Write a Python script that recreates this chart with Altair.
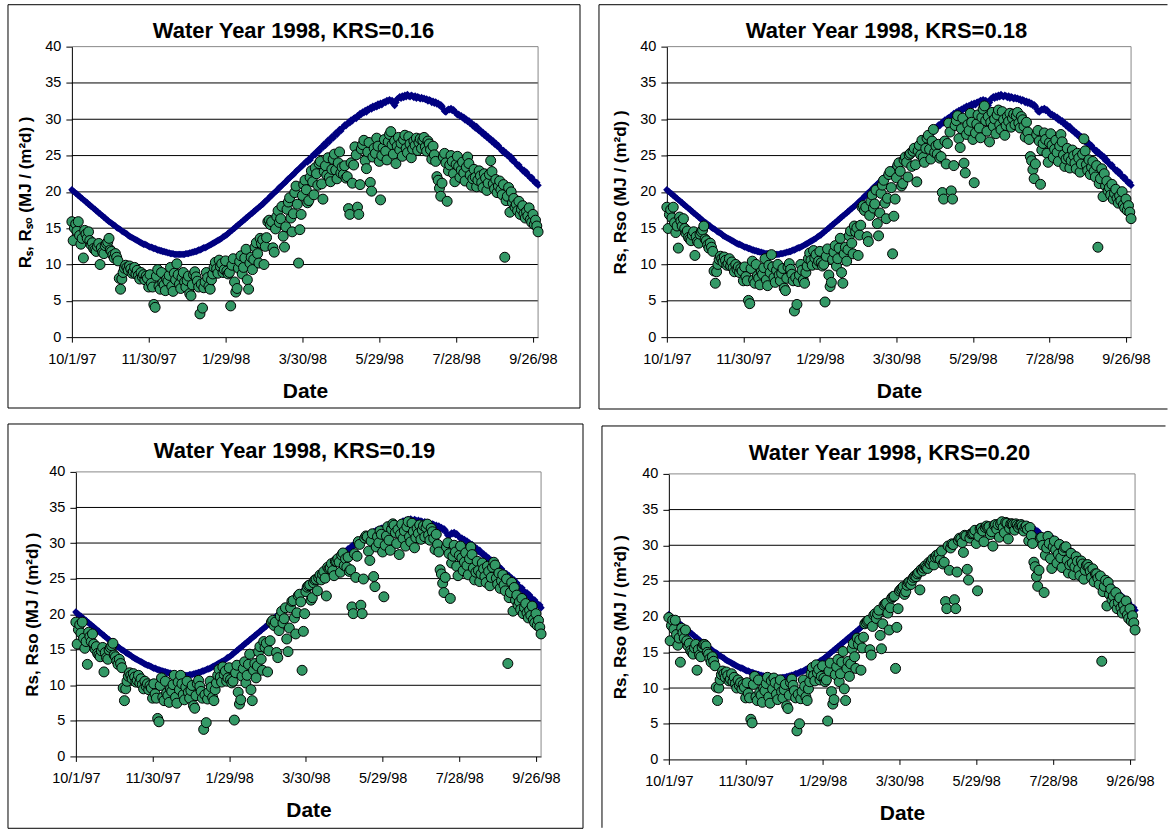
import altair as alt
import pandas as pd

# ---------------------------------------------------------------------------
# Daily values for water year 1998 (10/1/1997 - 9/30/1998), MJ / (m^2 d)
# ---------------------------------------------------------------------------
# Clear-sky solar radiation Rso, month by month
rso_oct = [20.3, 20.1, 20.0, 19.8, 19.7, 19.5, 19.4, 19.2, 19.1, 18.9, 18.8, 18.6, 18.5, 18.3, 18.2, 18.0,
           17.9, 17.7, 17.6, 17.4, 17.3, 17.1, 17.0, 16.8, 16.7, 16.5, 16.4, 16.2, 16.1, 15.9, 15.8]
rso_nov = [15.7, 15.5, 15.4, 15.3, 15.1, 15.0, 14.9, 14.8, 14.6, 14.5, 14.4, 14.3, 14.2, 14.0, 13.9, 13.8,
           13.7, 13.6, 13.5, 13.4, 13.3, 13.2, 13.1, 13.0, 12.9, 12.8, 12.8, 12.7, 12.6, 12.5]
rso_dec = [12.4, 12.4, 12.3, 12.2, 12.2, 12.1, 12.0, 12.0, 11.9, 11.9, 11.8, 11.8, 11.7, 11.7, 11.6, 11.6,
           11.5, 11.5, 11.5, 11.4, 11.4, 11.4, 11.4, 11.4, 11.4, 11.4, 11.4, 11.4, 11.5, 11.5, 11.5]
rso_jan = [11.6, 11.6, 11.7, 11.7, 11.8, 11.8, 11.9, 12.0, 12.0, 12.1, 12.2, 12.3, 12.3, 12.4, 12.5, 12.6,
           12.7, 12.8, 12.9, 13.0, 13.1, 13.2, 13.3, 13.4, 13.5, 13.6, 13.8, 13.9, 14.0, 14.1, 14.3]
rso_feb = [14.4, 14.6, 14.7, 14.9, 15.0, 15.2, 15.3, 15.5, 15.6, 15.8, 15.9, 16.1, 16.2, 16.4, 16.5, 16.7,
           16.8, 17.0, 17.1, 17.3, 17.4, 17.6, 17.7, 17.9, 18.0, 18.2, 18.3, 18.5]
rso_mar = [18.7, 18.8, 19.0, 19.2, 19.4, 19.5, 19.7, 19.9, 20.0, 20.2, 20.4, 20.6, 20.7, 20.9, 21.1, 21.2,
           21.4, 21.6, 21.8, 21.9, 22.1, 22.3, 22.4, 22.6, 22.8, 23.0, 23.1, 23.3, 23.5, 23.6, 23.8]
rso_apr = [24.0, 24.2, 24.1, 24.5, 24.4, 24.8, 24.9, 25.2, 25.1, 25.5, 25.7, 25.6, 26.0, 26.2, 26.1, 26.6,
           26.4, 26.8, 27.1, 26.9, 27.3, 27.6, 27.4, 27.8, 28.1, 27.9, 28.3, 28.6, 28.4, 28.8]
rso_may = [28.9, 29.2, 29.1, 29.4, 29.6, 29.5, 29.9, 29.8, 30.1, 30.2, 30.1, 30.5, 30.4, 30.8, 30.7, 31.0,
           30.9, 31.2, 31.0, 31.4, 31.3, 31.6, 31.4, 31.8, 31.6, 31.9, 31.7, 32.1, 31.9, 32.2, 32.0]
rso_jun = [32.3, 32.4, 32.3, 32.6, 32.5, 32.7, 32.5, 32.6, 32.2, 31.9, 32.3, 32.8, 32.9, 33.1, 32.9, 33.2,
           33.0, 33.3, 33.1, 33.4, 33.2, 33.1, 33.3, 33.2, 33.0, 33.2, 32.9, 33.1, 33.0, 32.8]
rso_jul = [33.0, 32.8, 32.9, 32.7, 32.8, 32.5, 32.7, 32.6, 32.3, 32.5, 32.2, 32.4, 32.1, 32.2, 31.9, 32.0,
           31.8, 31.4, 31.1, 31.0, 31.2, 31.4, 31.3, 31.5, 31.2, 31.3, 31.0, 30.9, 30.6, 30.7, 30.4]
rso_aug = [30.5, 30.2, 30.3, 29.9, 30.0, 29.7, 29.8, 29.4, 29.5, 29.1, 29.2, 28.8, 29.0, 28.6, 28.4, 28.5,
           28.1, 28.2, 27.8, 27.9, 27.5, 27.6, 27.2, 27.3, 26.9, 27.0, 26.6, 26.7, 26.3, 26.4, 26.0]
rso_sep = [25.9, 25.6, 25.7, 25.3, 25.4, 25.0, 25.1, 24.7, 24.8, 24.3, 24.4, 24.0, 23.9, 23.6, 23.7, 23.3,
           23.2, 22.9, 23.0, 22.6, 22.7, 22.3, 22.2, 21.9, 22.0, 21.6, 21.5, 21.2, 21.3, 20.9]

# Hargreaves estimate of solar radiation Rs with KRS = 0.16, month by month
rs_oct = [15.9, 13.3, 15.0, 15.6, 14.6, 15.9, 14.0, 12.8, 13.6, 10.9, 14.7, 14.2, 13.6, 14.5, 13.3, 12.7,
          13.0, 12.2, 12.0, 11.8, 12.5, 12.9, 10.0, 12.3, 11.7, 11.5, 12.6, 12.9, 13.1, 13.6, 12.0]
rs_nov = [11.8, 11.3, 10.9, 11.5, 11.0, 10.5, 8.1, 6.6, 8.0, 8.9, 9.5, 9.9, 9.6, 9.2, 9.8, 9.4,
          8.8, 9.0, 9.6, 8.7, 9.2, 8.5, 8.0, 8.9, 8.3, 8.6, 7.9, 8.4, 8.1, 6.9]
rs_dec = [8.6, 7.4, 6.9, 4.5, 4.1, 8.4, 9.3, 7.0, 6.6, 8.9, 7.5, 7.2, 6.4, 8.0, 7.7, 8.5,
          9.6, 7.0, 6.3, 8.8, 7.9, 10.1, 8.6, 7.3, 6.7, 8.2, 8.9, 7.6, 6.9, 7.8, 8.4]
rs_jan = [6.0, 5.7, 7.2, 8.6, 9.0, 8.3, 7.7, 6.9, 3.2, 7.3, 4.0, 6.8, 7.6, 8.9, 8.2, 7.0,
          6.6, 7.9, 8.7, 9.6, 10.3, 9.4, 8.8, 10.6, 9.7, 10.1, 8.9, 9.3, 10.5, 9.1, 8.7]
rs_feb = [8.9, 4.3, 9.9, 10.8, 7.6, 6.2, 6.7, 9.5, 10.4, 11.2, 8.7, 9.6, 10.9, 12.1, 7.9, 6.6,
          10.2, 11.0, 9.3, 10.7, 12.4, 13.0, 11.5, 10.2, 13.6, 12.9, 13.4, 10.0]
rs_mar = [12.5, 13.7, 15.9, 16.1, 15.5, 15.9, 12.3, 11.7, 14.9, 16.6, 17.4, 15.8, 16.3, 18.0, 13.9, 12.4,
          15.2, 17.6, 18.6, 19.2, 16.4, 14.5, 17.0, 19.9, 20.8, 18.3, 10.2, 14.8, 16.9, 19.5, 21.0]
rs_apr = [21.6, 20.3, 18.5, 18.8, 22.0, 22.9, 21.4, 19.6, 23.3, 22.5, 20.9, 23.9, 24.2, 21.1, 19.0, 22.8,
          23.6, 22.3, 24.7, 22.0, 21.4, 23.1, 24.5, 25.2, 23.0, 21.8, 24.0, 25.5, 22.6, 23.4]
rs_may = [22.4, 23.6, 21.9, 22.1, 17.7, 16.9, 24.0, 21.2, 23.7, 26.2, 25.1, 17.9, 16.9, 21.0, 25.9, 26.5,
          27.1, 24.3, 23.2, 25.5, 26.8, 21.3, 20.1, 24.8, 26.0, 25.3, 27.4, 26.3, 24.2, 18.9, 25.0]
rs_jun = [26.1, 27.2, 25.6, 24.4, 26.9, 27.9, 28.3, 26.5, 25.2, 27.0, 23.9, 26.3, 27.5, 25.8, 26.7, 24.9,
          27.2, 27.8, 26.0, 25.4, 27.6, 26.6, 24.7, 25.9, 27.0, 26.4, 27.4, 25.7, 26.8, 27.3]
rs_jul = [26.0, 27.1, 27.5, 26.2, 25.6, 27.0, 26.6, 25.8, 24.5, 26.3, 25.1, 24.2, 22.1, 21.6, 20.5, 19.4,
          21.2, 24.8, 25.3, 24.0, 18.7, 22.9, 23.7, 25.0, 24.2, 22.5, 21.4, 23.8, 24.9, 23.5, 22.0]
rs_aug = [23.0, 24.1, 22.6, 21.5, 23.4, 24.8, 23.9, 22.3, 20.9, 21.8, 23.1, 22.0, 20.7, 21.6, 22.9, 22.2,
          21.3, 20.6, 22.5, 21.9, 20.2, 21.2, 22.4, 24.3, 22.8, 21.1, 20.4, 21.7, 19.9, 20.8, 21.5]
rs_sep = [20.3, 19.6, 21.0, 11.0, 18.8, 19.4, 20.6, 17.2, 20.0, 18.5, 19.1, 17.9, 18.3, 17.4, 18.7, 16.9,
          17.6, 18.1, 17.0, 16.4, 17.3, 16.7, 17.8, 16.2, 15.8, 16.9, 15.5, 16.1, 15.3, 14.5]

rso = (rso_oct + rso_nov + rso_dec + rso_jan + rso_feb + rso_mar
       + rso_apr + rso_may + rso_jun + rso_jul + rso_aug + rso_sep)
rs_016 = (rs_oct + rs_nov + rs_dec + rs_jan + rs_feb + rs_mar
          + rs_apr + rs_may + rs_jun + rs_jul + rs_aug + rs_sep)
dates = pd.date_range("1997-10-01", "1998-09-30", freq="D").strftime("%Y-%m-%d").tolist()

tick_dates = [(1997, 10, 1), (1997, 11, 30), (1998, 1, 29), (1998, 3, 30),
              (1998, 5, 29), (1998, 7, 28), (1998, 9, 26)]
y_ticks = [0, 5, 10, 15, 20, 25, 30, 35, 40]
grid_levels = [5, 10, 15, 20, 25, 30, 35]

FONT = "Liberation Sans"
NAVY = "#000080"
GREEN = "#339966"
BORDER_GREY = "#888888"

one = pd.DataFrame({"v": [0]})


def dt(y, m, d):
    return alt.DateTime(year=y, month=m, date=d, utc=True)


def rs_for(krs):
    # Rs scales with KRS and never exceeds the clear-sky value
    return [min(round(v * krs / 0.16, 2), s) for v, s in zip(rs_016, rso)]


def spacer(w, h):
    return alt.Chart(one).mark_point(opacity=0).properties(width=w, height=h)


def panel(krs, dx, dy, w, h, ytitle, title_x, title_y, ytitle_x, frame, anchor=None):
    """One chart: plot area w x h placed at (dx, dy) inside its cell."""
    df = pd.DataFrame({"date": dates, "Rso": rso, "Rs": rs_for(krs)})
    base = alt.Chart(df)

    xscale = alt.Scale(type="utc", domain=[dt(1997, 10, 1), dt(1998, 9, 30)], range=[dx, dx + w])
    yscale = alt.Scale(domain=[0, 40], nice=False, zero=True, range=[dy + h, dy])
    yaxis = alt.Axis(values=y_ticks, labelFontSize=14.5, labelPadding=5, tickSize=6,
                     grid=False, offset=-dx,
                     title=ytitle, titleFontSize=17, titleFontWeight="bold",
                     titleAngle=270, titleBaseline="alphabetic",
                     titleX=ytitle_x, titleY=dy + h / 2)

    x = alt.X("date:T", scale=xscale,
              axis=alt.Axis(values=[dt(*t) for t in tick_dates],
                            labelExpr="utcFormat(datum.value, '%-m/%-d/%y')",
                            labelFlush=False, labelOverlap=False, labelBound=False,
                            labelFontSize=14.5, labelBaseline="alphabetic", labelPadding=21,
                            tickSize=5, grid=False,
                            title="Date", titleFontSize=21, titleFontWeight="bold",
                            titleBaseline="alphabetic", titleX=dx + w / 2, titleY=60))

    def y(field):
        return alt.Y(f"{field}:Q", scale=yscale, axis=yaxis)

    # horizontal gridlines, the grey top edge and the grey right edge of the plot area
    grid = alt.Chart(pd.DataFrame({"g": grid_levels})).mark_rule(
        color="black", strokeWidth=1).encode(
        y=y("g"), x=alt.value(dx), x2=alt.value(dx + w))
    top_edge = alt.Chart(pd.DataFrame({"g": [40]})).mark_rule(
        color=BORDER_GREY, strokeWidth=1).encode(
        y=y("g"), x=alt.value(dx), x2=alt.value(dx + w))
    right_edge = alt.Chart(one).mark_rule(color=BORDER_GREY, strokeWidth=1).encode(
        x=alt.value(dx + w), y=alt.value(dy), y2=alt.value(dy + h))

    clear_sky = base.mark_point(shape="diamond", filled=True, size=55, color=NAVY,
                                opacity=1).encode(x=x, y=y("Rso"))
    estimate = base.mark_circle(size=100, color=GREEN, stroke="black", strokeWidth=1,
                                opacity=1).encode(x=x, y=y("Rs"))

    title = alt.Chart(pd.DataFrame({"t": [f"Water Year 1998, KRS={krs:.2f}"]})).mark_text(
        fontSize=22, fontWeight="bold", align="center", baseline="alphabetic", color="black"
    ).encode(text="t:N", x=alt.value(dx + title_x), y=alt.value(dy + title_y))

    layers = []
    if anchor is not None:
        layers.append(anchor)
    layers += [grid, top_edge, right_edge] + frame(dx, dy) + [title, clear_sky, estimate]
    return alt.layer(*layers).properties(width=dx + w, height=dy + h)


def frame_box(x1, x2, y1, y2):
    def build(dx, dy):
        return [alt.Chart(one).mark_rect(fill="transparent", stroke="black", strokeWidth=1).encode(
            x=alt.value(dx + x1), x2=alt.value(dx + x2), y=alt.value(dy + y1), y2=alt.value(dy + y2))]
    return build


def frame_open(x1, x2, y1, y2, bottom=True):
    # left and top edges (and optionally bottom); the rest runs off the page
    def build(dx, dy):
        parts = [
            alt.Chart(one).mark_rule(color="black", strokeWidth=1).encode(
                x=alt.value(dx + x1), y=alt.value(dy + y1), y2=alt.value(dy + y2)),
            alt.Chart(one).mark_rule(color="black", strokeWidth=1).encode(
                x=alt.value(dx + x1), x2=alt.value(dx + x2), y=alt.value(dy + y1)),
        ]
        if bottom:
            parts.append(alt.Chart(one).mark_rule(color="black", strokeWidth=1).encode(
                x=alt.value(dx + x1), x2=alt.value(dx + x2), y=alt.value(dy + y2)))
        return parts
    return build


# page-sized transparent box that fixes the canvas to 1169 x 830
page = alt.Chart(one).mark_rect(fill="transparent", strokeWidth=0).encode(
    x=alt.value(-71), x2=alt.value(1098), y=alt.value(-45), y2=alt.value(785))

p1 = panel(0.16, 0, 0, 467, 291, "Rₛ, Rₛₒ (MJ / (m²d) )", 222, -9, -41,
           frame_box(-64, 509, -42, 362), anchor=page)
p2 = panel(0.18, 0, 0, 465, 291, "Rs, Rso (MJ / (m²d) )", 220, -9, -41,
           frame_open(-68, 501.5, -42, 363))
p3 = panel(0.19, 4, 0, 466, 285, "Rs, Rso (MJ / (m²d) )", 219, -14, -38,
           frame_box(-68, 508, -48, 357))
p4 = panel(0.20, 2, 2, 467, 286, "Rs, Rso (MJ / (m²d) )", 221, -14, -43,
           frame_open(-67, 497.5, -48, 354.5, bottom=False))

# 2 x 3 grid: panel | gap | panel
chart = alt.concat(
    p1, spacer(126, 291), p2,
    p3, spacer(126, 1), p4,
    columns=3, spacing={"row": 135, "column": 0}, bounds="flush",
).properties(
    padding={"left": 0, "top": 0, "right": 0, "bottom": 0}
).configure(font=FONT).configure_view(
    stroke="transparent"
).configure_axis(
    domainColor="black", tickColor="black", labelColor="black", titleColor="black",
    labelFont=FONT, titleFont=FONT, domainWidth=1, tickWidth=1
)

chart.save("out.html", embed_options={"renderer": "svg", "actions": False})
